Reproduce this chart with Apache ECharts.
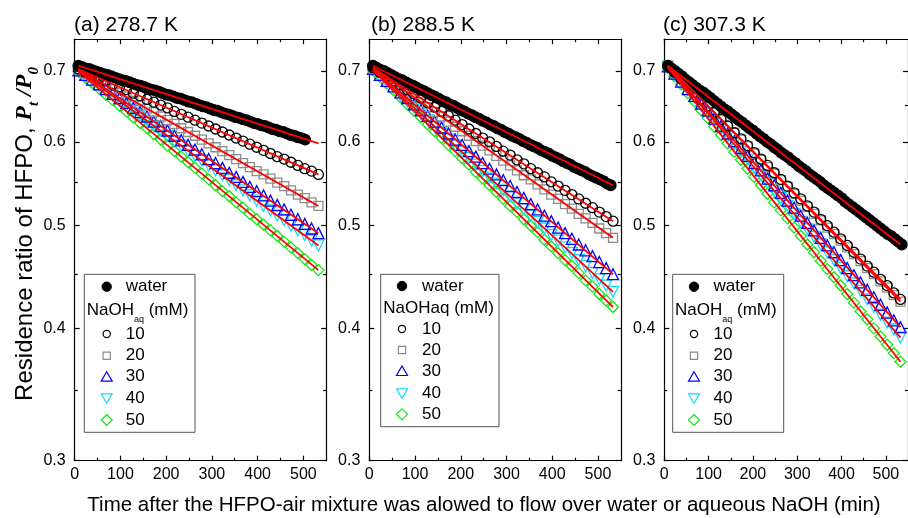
<!DOCTYPE html>
<html><head><meta charset="utf-8">
<script src="https://cdn.jsdelivr.net/npm/echarts@6/dist/echarts.min.js"></script>
<style>html,body{margin:0;padding:0;background:#fff}#c{width:908px;height:518px}</style>
</head><body><div id="c"></div><script>
// ---- data ----
const panelTitles = ['(a) 278.7 K', '(b) 288.5 K', '(c) 307.3 K'];
const seriesNames = ['water', '10', '20', '30', '40', '50'];
const xTicks = [0, 100, 200, 300, 400, 500];
const xMinorTicks = [50, 150, 250, 350, 450];
const yTicks = [0.3, 0.4, 0.5, 0.6, 0.7];
const yMinorTicks = [0.35, 0.45, 0.55, 0.65];

const tNaOH = [8,23,38,53,68,83,98,113,128,143,158,173,188,203,218,233,248,263,278,293,308,323,338,353,368,383,398,413,428,443,458,473,488,503,518,533];
const tWater = [8,16,24,32,40,48,56,64,72,80,88,96,104,112,120,128,136,144,152,160,168,176,184,192,200,208,216,224,232,240,248,256,264,272,280,288,296,304,312,320,328,336,344,352,360,368,376,384,392,400,408,416,424,432,440,448,456,464,472,480,488,496,504,512,520,528,536];
const fitT = [8, 533];

const aWater = [0.708,0.706,0.704,0.703,0.701,0.699,0.697,0.695,0.694,0.692,0.690,0.688,0.686,0.685,0.683,0.681,0.679,0.678,0.676,0.674,0.672,0.671,0.669,0.667,0.665,0.664,0.662,0.660,0.659,0.657,0.655,0.654,0.652,0.650,0.648,0.647,0.645,0.643,0.642,0.640,0.638,0.637,0.635,0.633,0.632,0.630,0.629,0.627,0.625,0.624,0.622,0.621,0.619,0.617,0.616,0.614,0.613,0.611,0.609,0.608,0.606,0.605,0.603];
const a10 = [0.703,0.698,0.694,0.689,0.685,0.680,0.676,0.672,0.667,0.663,0.658,0.654,0.650,0.646,0.641,0.637,0.633,0.629,0.625,0.621,0.617,0.613,0.609,0.605,0.601,0.597,0.593,0.589,0.585,0.581,0.578,0.574,0.570,0.566,0.563,0.559];
const a20 = [0.702,0.696,0.690,0.684,0.679,0.673,0.667,0.662,0.656,0.650,0.645,0.640,0.634,0.629,0.624,0.618,0.613,0.608,0.603,0.598,0.593,0.588,0.583,0.578,0.573,0.568,0.563,0.559,0.554,0.549,0.545,0.540,0.535,0.531,0.526,0.522];
const a30 = [0.701,0.694,0.687,0.680,0.673,0.666,0.660,0.653,0.646,0.640,0.634,0.627,0.621,0.615,0.608,0.602,0.596,0.590,0.584,0.578,0.573,0.567,0.561,0.556,0.550,0.544,0.539,0.534,0.528,0.523,0.518,0.512,0.507,0.502,0.497,0.492];
const a40 = [0.700,0.692,0.685,0.678,0.670,0.663,0.656,0.649,0.642,0.635,0.628,0.621,0.615,0.608,0.601,0.595,0.588,0.582,0.576,0.570,0.564,0.558,0.552,0.546,0.540,0.534,0.528,0.522,0.517,0.511,0.506,0.500,0.495,0.490,0.484,0.479];
const a50 = [0.699,0.690,0.682,0.674,0.665,0.657,0.649,0.641,0.633,0.625,0.618,0.610,0.603,0.595,0.588,0.581,0.574,0.567,0.560,0.553,0.546,0.539,0.533,0.526,0.520,0.513,0.507,0.501,0.495,0.489,0.483,0.477,0.471,0.465,0.459,0.454];
const aFit = [[0.708,0.598],[0.703,0.559],[0.702,0.522],[0.701,0.492],[0.700,0.479],[0.699,0.454]];

const bWater = [0.708,0.705,0.702,0.700,0.697,0.694,0.691,0.688,0.686,0.683,0.680,0.678,0.675,0.672,0.670,0.667,0.664,0.662,0.659,0.656,0.654,0.651,0.649,0.646,0.643,0.641,0.638,0.636,0.633,0.631,0.628,0.626,0.623,0.621,0.618,0.616,0.613,0.611,0.608,0.606,0.604,0.601,0.599,0.596,0.594,0.592,0.589,0.587,0.585,0.582,0.580,0.578,0.575,0.573,0.571,0.568,0.566,0.564,0.562,0.559,0.557,0.555,0.553,0.551,0.548,0.546];
const b10 = [0.705,0.698,0.692,0.685,0.679,0.672,0.666,0.660,0.653,0.647,0.641,0.635,0.629,0.623,0.617,0.611,0.605,0.600,0.594,0.588,0.583,0.577,0.572,0.566,0.561,0.556,0.550,0.545,0.540,0.535,0.530,0.525,0.520,0.515,0.510,0.505];
const b20 = [0.704,0.697,0.689,0.682,0.675,0.668,0.661,0.654,0.647,0.640,0.634,0.627,0.620,0.614,0.608,0.601,0.595,0.589,0.582,0.576,0.570,0.564,0.558,0.553,0.547,0.541,0.535,0.530,0.524,0.519,0.513,0.508,0.503,0.497,0.492,0.487];
const b30 = [0.703,0.694,0.685,0.677,0.668,0.660,0.651,0.643,0.635,0.627,0.619,0.611,0.603,0.596,0.588,0.581,0.573,0.566,0.559,0.552,0.545,0.538,0.531,0.524,0.518,0.511,0.505,0.498,0.492,0.486,0.480,0.474,0.468,0.462,0.456,0.450];
const b40 = [0.702,0.692,0.683,0.674,0.664,0.655,0.646,0.637,0.629,0.620,0.612,0.603,0.595,0.587,0.579,0.571,0.563,0.555,0.548,0.540,0.533,0.525,0.518,0.511,0.504,0.497,0.490,0.484,0.477,0.471,0.464,0.458,0.451,0.445,0.439,0.433];
const b50 = [0.701,0.691,0.681,0.671,0.661,0.651,0.642,0.633,0.623,0.614,0.605,0.596,0.588,0.579,0.571,0.562,0.554,0.546,0.538,0.530,0.522,0.515,0.507,0.500,0.493,0.485,0.478,0.471,0.464,0.458,0.451,0.444,0.438,0.431,0.425,0.419];
const bFit = [[0.708,0.546],[0.705,0.505],[0.704,0.487],[0.703,0.450],[0.702,0.433],[0.701,0.419]];

const cWater = [0.708,0.704,0.700,0.696,0.692,0.687,0.683,0.679,0.675,0.671,0.668,0.664,0.660,0.656,0.652,0.648,0.644,0.641,0.637,0.633,0.629,0.626,0.622,0.618,0.615,0.611,0.607,0.604,0.600,0.597,0.593,0.590,0.586,0.583,0.580,0.576,0.573,0.569,0.566,0.563,0.559,0.556,0.553,0.550,0.546,0.543,0.540,0.537,0.534,0.531,0.527,0.524,0.521,0.518,0.515,0.512,0.509,0.506,0.503,0.500,0.497,0.494,0.491,0.489,0.486,0.483,0.480];
const c10 = [0.708,0.698,0.688,0.678,0.668,0.658,0.649,0.640,0.630,0.621,0.612,0.604,0.595,0.586,0.578,0.570,0.561,0.553,0.545,0.537,0.530,0.522,0.515,0.507,0.500,0.493,0.486,0.479,0.472,0.465,0.458,0.452,0.445,0.439,0.432,0.426];
const c20 = [0.708,0.698,0.688,0.678,0.668,0.658,0.648,0.639,0.630,0.621,0.612,0.603,0.594,0.585,0.577,0.568,0.560,0.552,0.544,0.536,0.528,0.521,0.513,0.506,0.498,0.491,0.484,0.477,0.470,0.463,0.456,0.450,0.443,0.437,0.430,0.424];
const c30 = [0.707,0.696,0.684,0.673,0.663,0.652,0.642,0.631,0.621,0.611,0.601,0.592,0.582,0.573,0.564,0.554,0.546,0.537,0.528,0.520,0.511,0.503,0.495,0.487,0.479,0.472,0.464,0.456,0.449,0.442,0.435,0.428,0.421,0.414,0.407,0.401];
const c40 = [0.706,0.694,0.683,0.671,0.660,0.649,0.638,0.628,0.617,0.607,0.597,0.587,0.577,0.567,0.558,0.549,0.540,0.531,0.522,0.513,0.504,0.496,0.488,0.480,0.472,0.464,0.456,0.448,0.441,0.434,0.426,0.419,0.412,0.405,0.399,0.392];
const c50 = [0.705,0.692,0.680,0.667,0.655,0.643,0.632,0.620,0.609,0.598,0.587,0.577,0.566,0.556,0.546,0.536,0.526,0.517,0.508,0.498,0.489,0.480,0.472,0.463,0.455,0.447,0.439,0.431,0.423,0.415,0.408,0.400,0.393,0.386,0.379,0.372];
const cFit = [[0.708,0.480],[0.708,0.426],[0.708,0.424],[0.707,0.401],[0.706,0.392],[0.705,0.372]];

// ---- styling / layout ----
const FONT = '"Liberation Sans", Arial, sans-serif';
const SERIF = '"Liberation Serif", "Times New Roman", serif';
const CYAN = '#19d9ff', GREEN = '#14e614', BLUE = '#0000ff', GRAY = '#8c8c8c';
const markerStyles = [
  {symbol: 'circle', size: 10.5, color: '#000', fill: '#000'},
  {symbol: 'circle', size: 10, color: '#000'},
  {symbol: 'rect', size: 9, color: GRAY},
  {symbol: 'triangle', size: 11, color: BLUE},
  {symbol: 'triangle', size: 11, color: CYAN, rotate: 180},
  {symbol: 'diamond', size: 11, color: GREEN}
];
const panels = [
  {water: aWater, naoh: [a10, a20, a30, a40, a50], fit: aFit},
  {water: bWater, naoh: [b10, b20, b30, b40, b50], fit: bFit},
  {water: cWater, naoh: [c10, c20, c30, c40, c50], fit: cFit}
];
const gridLefts = [74.7, 369.3, 664.3];
const grid = gridLefts.map(l => ({left: l, top: 39.2, width: 251.5, height: 421.5, containLabel: false}));

const axisLineStyle = {color: '#000', width: 1.2};
const xAxis = [], yAxis = [];
const lnMin = Math.log(0.3) - 1e-9, lnMax = Math.log(0.75) + 1e-9;
gridLefts.forEach((l, gi) => {
  const xb = {type: 'value', gridIndex: gi, min: 0, max: 550, splitLine: {show: false}};
  const majT = {show: true, inside: true, length: 5, customValues: xTicks, lineStyle: axisLineStyle};
  const minT = {show: true, inside: true, length: 3, customValues: xMinorTicks, lineStyle: axisLineStyle};
  xAxis.push(Object.assign({}, xb, {position: 'bottom', axisLine: {show: true, onZero: false, lineStyle: axisLineStyle},
    axisTick: majT, axisLabel: {show: true, customValues: xTicks, margin: 6, fontSize: 16, color: '#000', fontFamily: FONT}}));
  xAxis.push(Object.assign({}, xb, {position: 'bottom', axisLine: {show: false, onZero: false}, axisTick: minT, axisLabel: {show: false}}));
  xAxis.push(Object.assign({}, xb, {position: 'top', axisLine: {show: true, onZero: false, lineStyle: axisLineStyle}, axisTick: majT, axisLabel: {show: false}}));
  xAxis.push(Object.assign({}, xb, {position: 'top', axisLine: {show: false, onZero: false}, axisTick: minT, axisLabel: {show: false}}));

  yAxis.push({type: 'log', logBase: 10, gridIndex: gi, min: 0.3, max: 0.75, show: false});
  const yb = {type: 'value', gridIndex: gi, min: lnMin, max: lnMax, splitLine: {show: false}};
  const yMaj = yTicks.map(v => Math.log(v)), yMin = yMinorTicks.map(v => Math.log(v));
  const ymajT = {show: true, inside: true, length: 5, customValues: yMaj, lineStyle: axisLineStyle};
  const yminT = {show: true, inside: true, length: 3, customValues: yMin, lineStyle: axisLineStyle};
  yAxis.push(Object.assign({}, yb, {position: 'left', axisLine: {show: true, onZero: false, lineStyle: axisLineStyle}, axisTick: ymajT,
    axisLabel: {show: true, customValues: yMaj, margin: 9, fontSize: 16, color: '#000', fontFamily: FONT, formatter: v => Math.exp(v).toFixed(1)}}));
  yAxis.push(Object.assign({}, yb, {position: 'left', axisLine: {show: false, onZero: false}, axisTick: yminT, axisLabel: {show: false}}));
  yAxis.push(Object.assign({}, yb, {position: 'right', axisLine: {show: true, onZero: false, lineStyle: axisLineStyle}, axisTick: ymajT, axisLabel: {show: false}}));
  yAxis.push(Object.assign({}, yb, {position: 'right', axisLine: {show: false, onZero: false}, axisTick: yminT, axisLabel: {show: false}}));
});

const series = [];
panels.forEach((p, gi) => {
  const axes = {xAxisIndex: gi * 4, yAxisIndex: gi * 5};
  const sets = [p.water.map((v, i) => [tWater[i], v])].concat(p.naoh.map(arr => arr.map((v, i) => [tNaOH[i], v])));
  for (let k = sets.length - 1; k >= 0; k--) {
    const st = markerStyles[k];
    series.push(Object.assign({
      type: 'scatter', name: seriesNames[k], data: sets[k], symbol: st.symbol, symbolSize: st.size,
      symbolRotate: st.rotate || 0, z: 2 + (sets.length - k) * 0.01, silent: true,
      itemStyle: {color: st.fill || 'rgba(0,0,0,0)', borderColor: st.color, borderWidth: 1.3, opacity: 1}
    }, axes));
  }
  p.fit.forEach((f, k) => {
    series.push(Object.assign({
      type: 'line', name: 'fit ' + seriesNames[k], data: fitT.map((t, i) => [t, f[i]]), showSymbol: false, symbol: 'none',
      lineStyle: {color: '#ff0000', width: 1.8}, z: 5, silent: true
    }, axes));
  });
});

// ---- graphic texts & legends ----
const graphic = [];
const txt = (x, y, text, size, extra) => graphic.push(Object.assign({type: 'text', x: x, y: y,
  style: Object.assign({text: text, fill: '#000', font: size + 'px ' + FONT, fontSize: size, fontFamily: FONT,
    textAlign: 'left', align: 'left', textVerticalAlign: 'middle', verticalAlign: 'middle'}, extra || {})}));
panelTitles.forEach((t, i) => txt([74, 371, 663][i], 25, t, 21));

// y axis title
graphic.push({type: 'text', x: 25, y: 234, rotation: Math.PI / 2,
  style: {text: '{n|Residence ratio of HFPO, }{p|P}{s|t}{p| /P}{s|0}', fill: '#000',
    textAlign: 'center', align: 'center', textVerticalAlign: 'middle', verticalAlign: 'middle',
    rich: {
      n: {fontSize: 24, fontFamily: FONT, lineHeight: 34, color: '#000'},
      p: {fontSize: 24, fontFamily: SERIF, fontStyle: 'italic', fontWeight: 'bold', lineHeight: 34, color: '#000'},
      s: {fontSize: 15, fontFamily: SERIF, fontStyle: 'italic', fontWeight: 'bold', lineHeight: 14, verticalAlign: 'bottom', color: '#000'}
    }}});
// x axis title
txt(484, 505, 'Time after the HFPO-air mixture was alowed to flow over water or aqueous NaOH (min)', 20.5,
  {textAlign: 'center', align: 'center'});

function drawSymbol(k, cx, cy) {
  const c = markerStyles[k].color;
  const st = {fill: 'none', stroke: c, lineWidth: 1.2};
  if (k === 0) graphic.push({type: 'circle', shape: {cx: cx, cy: cy, r: 4.7}, style: {fill: '#000', stroke: '#000'}});
  else if (k === 1) graphic.push({type: 'circle', shape: {cx: cx, cy: cy, r: 3.6}, style: st});
  else if (k === 2) graphic.push({type: 'rect', shape: {x: cx - 3.6, y: cy - 3.6, width: 7.2, height: 7.2}, style: st});
  else if (k === 3) graphic.push({type: 'polygon', shape: {points: [[cx, cy - 5], [cx + 5.5, cy + 4.5], [cx - 5.5, cy + 4.5]]}, style: st});
  else if (k === 4) graphic.push({type: 'polygon', shape: {points: [[cx - 5.5, cy - 4.5], [cx + 5.5, cy - 4.5], [cx, cy + 5]]}, style: st});
  else graphic.push({type: 'polygon', shape: {points: [[cx, cy - 5.5], [cx + 5.5, cy], [cx, cy + 5.5], [cx - 5.5, cy]]}, style: st});
}
const legends = [
  {box: [84.3, 274.3, 110.7, 158], mx: 106.7, tx: 125.7, hx: 86.7, rows: [286.7, 310, 334, 355.7, 376.7, 398.3, 420], sub: true},
  {box: [380.7, 274.3, 118.3, 152.4], mx: 402, tx: 422, hx: 383.3, rows: [286, 308.3, 329, 350, 371, 393.3, 414.3], sub: false},
  {box: [672.7, 274.3, 111, 158], mx: 694, tx: 713.5, hx: 675, rows: [286.7, 310, 334, 355.7, 376.7, 398.3, 420], sub: true}
];
legends.forEach(L => {
  graphic.push({type: 'rect', shape: {x: L.box[0], y: L.box[1], width: L.box[2], height: L.box[3]},
    style: {fill: '#fff', stroke: '#555', lineWidth: 1}, z: 10});
  const rowY = [L.rows[0]].concat(L.rows.slice(2));
  seriesNames.forEach((n, k) => {
    drawSymbol(k, L.mx, rowY[k]);
    txt(L.tx, rowY[k], n, 17);
  });
  if (L.sub) {
    graphic.push({type: 'text', x: L.hx, y: L.rows[1], style: {text: '{a|NaOH}{s|aq}{a| (mM)}', fill: '#000',
      textAlign: 'left', align: 'left', textVerticalAlign: 'middle', verticalAlign: 'middle',
      rich: {a: {fontSize: 17, fontFamily: FONT, lineHeight: 28, color: '#000'},
             s: {fontSize: 9, fontFamily: FONT, lineHeight: 8, verticalAlign: 'bottom', color: '#000'}}}});
  } else {
    txt(L.hx, L.rows[1], 'NaOHaq (mM)', 17);
  }
});
graphic.forEach(g => { if (g.z === undefined) g.z = 11; });

const chart = echarts.init(document.getElementById('c'), null, {renderer: 'canvas'});
chart.setOption({
  animation: false,
  backgroundColor: '#fff',
  grid: grid, xAxis: xAxis, yAxis: yAxis, series: series, graphic: graphic
});
</script></body></html>
